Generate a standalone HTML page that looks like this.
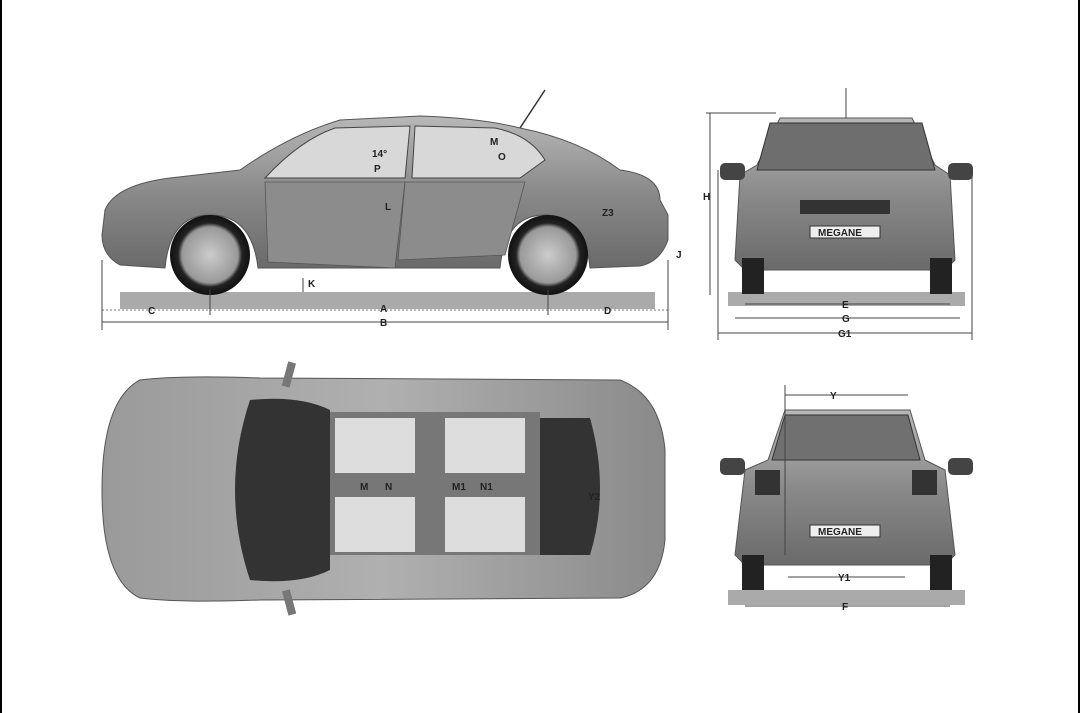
<!DOCTYPE html>
<html><head><meta charset="utf-8"><style>
html,body{margin:0;padding:0;background:#fff;}
svg{display:block;}
text{font-family:"Liberation Sans",sans-serif;font-weight:bold;font-size:10px;fill:#222;}
</style></head><body>
<svg width="1080" height="713" viewBox="0 0 1080 713" xmlns="http://www.w3.org/2000/svg">
<defs>
<linearGradient id="bd" x1="0" y1="0" x2="0" y2="1"><stop offset="0" stop-color="#b8b8b8"/><stop offset="0.5" stop-color="#8a8a8a"/><stop offset="1" stop-color="#6a6a6a"/></linearGradient>
<linearGradient id="tp" x1="0" y1="0" x2="1" y2="0"><stop offset="0" stop-color="#9a9a9a"/><stop offset="0.5" stop-color="#b0b0b0"/><stop offset="1" stop-color="#8a8a8a"/></linearGradient>
<radialGradient id="wh"><stop offset="0" stop-color="#ccc"/><stop offset="0.7" stop-color="#999"/><stop offset="0.8" stop-color="#222"/><stop offset="1" stop-color="#111"/></radialGradient>
</defs>
<rect x="0" y="0" width="2" height="713" fill="#000"/>
<rect x="1078" y="0" width="2" height="713" fill="#000"/>

<!-- SIDE VIEW -->
<rect x="120" y="292" width="535" height="17" fill="#aaa"/>
<path d="M105,210 Q115,185 170,178 L240,170 Q290,135 340,120 L420,116 Q480,118 520,128 Q580,140 620,170 Q660,175 660,200 L668,215 L668,240 Q660,262 640,266 L590,268 Q585,215 545,215 Q505,215 500,268 L258,268 Q252,215 210,215 Q170,215 165,268 L120,265 Q102,255 102,235 Z" fill="url(#bd)" stroke="#555"/>
<path d="M265,178 Q300,140 335,128 L410,126 L405,178 Z" fill="#d8d8d8" stroke="#444"/>
<path d="M415,126 L495,128 Q530,135 545,160 L520,178 L412,178 Z" fill="#d8d8d8" stroke="#444"/>
<path d="M265,182 L405,182 L395,268 L268,262 Z" fill="#8c8c8c" stroke="#555" stroke-width="0.8"/>
<path d="M405,182 L525,182 L505,255 L398,260 Z" fill="#8c8c8c" stroke="#555" stroke-width="0.8"/>
<line x1="520" y1="128" x2="545" y2="90" stroke="#333" stroke-width="1.5"/>
<circle cx="210" cy="255" r="40" fill="url(#wh)"/>
<circle cx="548" cy="255" r="40" fill="url(#wh)"/>
<line x1="102" y1="322" x2="668" y2="322" stroke="#444"/>
<line x1="102" y1="310" x2="668" y2="310" stroke="#777" stroke-dasharray="2,2"/>
<line x1="102" y1="260" x2="102" y2="330" stroke="#444"/>
<line x1="668" y1="260" x2="668" y2="330" stroke="#444"/>
<line x1="210" y1="290" x2="210" y2="315" stroke="#444"/>
<line x1="548" y1="290" x2="548" y2="315" stroke="#444"/>
<line x1="303" y1="278" x2="303" y2="292" stroke="#444"/>
<text x="148" y="314">C</text><text x="380" y="312">A</text><text x="604" y="314">D</text><text x="380" y="326">B</text><text x="308" y="287">K</text><text x="676" y="258">J</text>
<text x="372" y="157" font-size="9">14°</text><text x="374" y="172" font-size="9">P</text><text x="490" y="145" font-size="9">M</text><text x="498" y="160" font-size="9">O</text><text x="385" y="210" font-size="9">L</text><text x="602" y="216" font-size="10">Z3</text>

<!-- FRONT VIEW -->
<rect x="728" y="292" width="237" height="14" fill="#aaa"/>
<path d="M780,118 L912,118 L935,165 L950,175 L955,260 L945,270 L745,270 L735,260 L740,175 L757,165 Z" fill="url(#bd)" stroke="#555"/>
<path d="M770,123 L922,123 L935,170 L757,170 Z" fill="#6e6e6e" stroke="#333"/>
<rect x="720" y="163" width="25" height="17" rx="5" fill="#444"/>
<rect x="948" y="163" width="25" height="17" rx="5" fill="#444"/>
<rect x="742" y="258" width="22" height="36" fill="#222"/><rect x="930" y="258" width="22" height="36" fill="#222"/>
<rect x="810" y="226" width="70" height="12" fill="#eee" stroke="#333"/><text x="818" y="236" font-size="8">MEGANE</text>
<rect x="800" y="200" width="90" height="14" fill="#333"/>
<line x1="710" y1="113" x2="710" y2="295" stroke="#444"/><line x1="706" y1="113" x2="776" y2="113" stroke="#444"/>
<line x1="846" y1="88" x2="846" y2="118" stroke="#444"/>
<line x1="745" y1="304" x2="950" y2="304" stroke="#444"/>
<line x1="735" y1="318" x2="960" y2="318" stroke="#444"/>
<line x1="718" y1="333" x2="972" y2="333" stroke="#444"/>
<line x1="718" y1="170" x2="718" y2="340" stroke="#444"/><line x1="972" y1="170" x2="972" y2="340" stroke="#444"/>
<text x="703" y="200">H</text><text x="842" y="308">E</text><text x="842" y="322">G</text><text x="838" y="337">G1</text>

<!-- TOP VIEW -->
<path d="M140,380 Q180,375 260,378 L620,380 Q660,395 665,450 L665,540 Q660,590 620,598 L260,600 Q180,603 140,598 Q102,580 102,490 Q102,400 140,380 Z" fill="url(#tp)" stroke="#555"/>
<path d="M250,400 Q300,395 330,410 L330,570 Q300,585 250,580 Q220,490 250,400 Z" fill="#333"/>
<rect x="330" y="412" width="210" height="143" fill="#777"/>
<rect x="335" y="418" width="80" height="55" fill="#ddd"/><rect x="335" y="497" width="80" height="55" fill="#ddd"/>
<rect x="445" y="418" width="80" height="55" fill="#ddd"/><rect x="445" y="497" width="80" height="55" fill="#ddd"/>
<path d="M540,418 L590,418 Q610,490 590,555 L540,555 Z" fill="#333"/>
<rect x="285" y="362" width="8" height="25" fill="#777" transform="rotate(15 289 374)"/>
<rect x="285" y="590" width="8" height="25" fill="#777" transform="rotate(-15 289 602)"/>
<text x="360" y="490">M</text><text x="385" y="490">N</text><text x="452" y="490">M1</text><text x="480" y="490">N1</text><text x="588" y="500">Y2</text>

<!-- REAR VIEW -->
<rect x="728" y="590" width="237" height="15" fill="#aaa"/>
<path d="M785,410 L910,410 L925,460 L945,470 L955,555 L945,565 L745,565 L735,555 L745,470 L768,460 Z" fill="url(#bd)" stroke="#555"/>
<path d="M785,415 L908,415 L920,460 L772,460 Z" fill="#707070" stroke="#333"/>
<rect x="720" y="458" width="25" height="17" rx="5" fill="#444"/><rect x="948" y="458" width="25" height="17" rx="5" fill="#444"/>
<rect x="755" y="470" width="25" height="25" fill="#333"/><rect x="912" y="470" width="25" height="25" fill="#333"/>
<rect x="742" y="555" width="22" height="35" fill="#222"/><rect x="930" y="555" width="22" height="35" fill="#222"/>
<rect x="810" y="525" width="70" height="12" fill="#eee" stroke="#333"/><text x="818" y="535" font-size="8">MEGANE</text>
<line x1="785" y1="395" x2="908" y2="395" stroke="#444"/><line x1="785" y1="385" x2="785" y2="555" stroke="#444"/>
<line x1="788" y1="577" x2="905" y2="577" stroke="#444"/>
<line x1="745" y1="606" x2="950" y2="606" stroke="#444"/>
<text x="830" y="399">Y</text><text x="838" y="581">Y1</text><text x="842" y="610">F</text>
</svg>
</body></html>
